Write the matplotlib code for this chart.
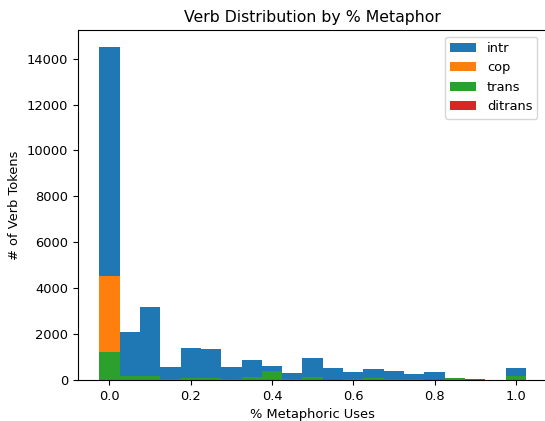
import numpy as np
import matplotlib
matplotlib.use("Agg")
import matplotlib.pyplot as plt

# Bin centres (% metaphoric uses) and token counts per verb type
bin_centers = [0.00, 0.05, 0.10, 0.15, 0.20, 0.25, 0.30, 0.35, 0.40, 0.45, 0.50,
               0.55, 0.60, 0.65, 0.70, 0.75, 0.80, 0.85, 0.90, 0.95, 1.00]
intr = [14520, 2070, 3160, 560, 1400, 1340, 560, 850, 620, 290, 940,
        530, 330, 490, 400, 240, 330, 80, 50, 0, 530]
cop = [4550, 0, 0, 0, 0, 0, 0, 0, 0, 0, 0,
       0, 0, 0, 0, 0, 0, 0, 0, 0, 0]
trans = [1215, 165, 165, 60, 90, 80, 60, 150, 410, 30, 150,
         20, 30, 100, 50, 30, 20, 80, 20, 0, 195]
ditrans = [0] * 21
labels = ["intr", "cop", "trans", "ditrans"]

fs = 9.4
fig, ax = plt.subplots(figsize=(5.45, 4.21), dpi=100)
# the right spine of the original falls just outside the image
fig.subplots_adjust(left=78 / 545, right=547.3 / 545, top=1 - 30 / 421, bottom=1 - 380 / 421)

edges = np.arange(-0.025, 1.05, 0.05)
for counts, lab in zip([intr, cop, trans, ditrans], labels):
    ax.hist(bin_centers, bins=edges, weights=counts, label=lab)

ax.set_title("Verb Distribution by % Metaphor", fontsize=11.3)
ax.set_xlabel("% Metaphoric Uses", fontsize=fs)
ax.set_ylabel("# of Verb Tokens", fontsize=fs)
ax.tick_params(labelsize=fs)
ax.legend(loc="upper right", bbox_to_anchor=(0.993, 1.0), fontsize=fs)

fig.savefig("out.png", dpi=100)
